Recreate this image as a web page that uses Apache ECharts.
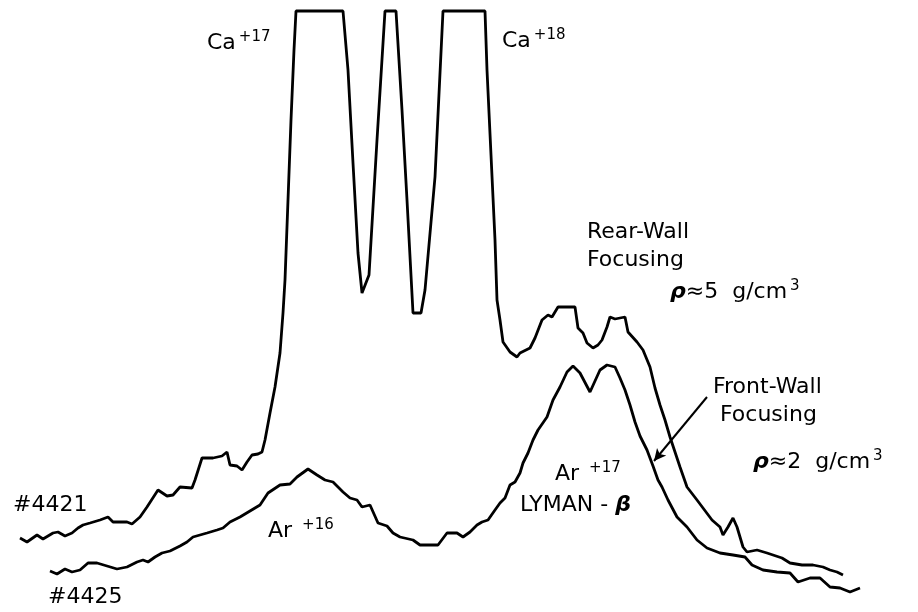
<!DOCTYPE html>
<html>
<head>
<meta charset="utf-8">
<script src="https://cdn.jsdelivr.net/npm/echarts@6/dist/echarts.min.js"></script>
<style>html,body{margin:0;padding:0;background:#fff}#c{width:918px;height:612px}</style>
</head>
<body>
<div id="c"></div>
<script>
// Shot #4421 (rear-wall focusing): wavelength position and intensity (arbitrary units)
const rearX = [20,27,37,43,53,58,65,72,78,83,90,100,108,113,127,132,140,147,158,167,173,180,192,195,202,213,222,227,230,237,242,247,252,258,262,265,270,275,280,283,285,288,291,294,296,343,348,353,358,362,369,377,385,396,402,407,413,421,425,435,443,485,487,495,497,500,503,510,517,520,530,535,542,548,552,558,575,578,583,587,593,598,602,607,610,615,625,628,637,643,650,655,660,665,670,675,680,687,697,703,712,720,723,728,733,737,743,747,757,767,782,790,802,813,823,830,837,843];
const rearI = [74,70,77,73,79,80,76,79,84,87,89,92,95,90,90,88,95,105,122,116,117,125,124,132,154,154,156,160,147,146,142,150,157,158,160,172,199,225,259,299,332,412,492,562,601,601,542,449,359,319,337,472,601,601,502,412,299,299,322,435,601,601,542,372,312,292,270,260,255,259,264,274,292,297,295,305,305,284,279,269,264,267,272,285,295,293,295,280,270,262,245,224,207,192,175,160,145,125,112,104,92,85,77,85,94,85,65,60,62,59,54,49,47,47,45,42,40,37];
// Shot #4425 (front-wall focusing)
const frontX = [50,57,65,72,80,88,97,107,117,127,137,143,148,155,162,170,180,187,193,207,217,223,230,240,255,260,268,280,290,297,308,317,325,333,343,350,357,362,370,378,387,393,400,413,420,438,447,457,463,470,477,482,488,495,500,505,510,515,520,523,528,533,538,547,553,560,567,573,580,590,600,607,615,620,625,630,635,640,647,653,658,662,668,677,687,697,707,720,733,745,752,763,777,790,798,810,820,830,840,850,860];
const frontI = [41,38,43,40,42,49,49,46,43,45,50,52,50,55,59,61,66,70,75,79,82,84,90,95,104,107,119,127,128,135,143,137,132,130,120,114,112,105,107,89,86,79,75,72,67,67,79,79,75,80,87,90,92,102,109,114,127,130,139,149,159,172,182,195,212,225,240,246,239,220,242,247,245,234,222,207,190,176,162,146,132,125,112,95,85,72,64,59,57,55,47,42,40,39,30,34,34,25,24,20,24];

const pair = (xs, ys) => xs.map((x, i) => [x, ys[i]]);
const FF = '"DejaVu Sans", "Liberation Sans", sans-serif';
const chart = echarts.init(document.getElementById('c'), null, {renderer: 'canvas'});

function label(txt, x, y) {
  return {
    type: 'text', x: x, y: y, z: 10,
    style: {
      text: txt, fill: '#000', fontFamily: FF, fontSize: 22, lineHeight: 26,
      verticalAlign: 'top',
      rich: {
        s: {fontSize: 15, fontFamily: FF, verticalAlign: 'top', lineHeight: 15, padding: [0, 0, 0, 3]},
        r: {fontSize: 22, fontFamily: FF, fontWeight: 'bold', fontStyle: 'italic', lineHeight: 26}
      }
    }
  };
}

chart.setOption({
  animation: false,
  backgroundColor: '#fff',
  grid: {left: 0, right: 0, top: 0, bottom: 0},
  xAxis: {type: 'value', min: 0, max: 918, show: false},
  yAxis: {type: 'value', min: 0, max: 612, show: false},
  series: [
    {
      name: '#4421', type: 'line', data: pair(rearX, rearI), symbol: 'none',
      lineStyle: {color: '#000', width: 2.8}, clip: false
    },
    {
      name: '#4425', type: 'line', data: pair(frontX, frontI), symbol: 'none',
      lineStyle: {color: '#000', width: 2.8}, clip: false,
      markLine: {
        silent: true, symbol: ['none', 'arrow'], symbolSize: [9, 12],
        label: {show: false},
        lineStyle: {color: '#000', width: 2, type: 'solid'},
        data: [[{coord: [707, 215]}, {coord: [654, 151]}]]
      }
    }
  ],
  graphic: [
    label('Ca{s|+17}', 207, 30),
    label('Ca{s|+18}', 502, 28),
    label('Rear-Wall', 587, 219),
    label('Focusing', 587, 247),
    label('{r|ρ}≈5  g/cm{s|3}', 670, 279),
    label('Front-Wall', 713, 374),
    label('Focusing', 720, 402),
    label('{r|ρ}≈2  g/cm{s|3}', 753, 449),
    label('Ar {s|+17}', 555, 461),
    label('LYMAN - {r|β}', 520, 492),
    label('Ar {s|+16}', 268, 518),
    label('#4421', 13, 492),
    label('#4425', 48, 584)
  ]
});
</script>
</body>
</html>
